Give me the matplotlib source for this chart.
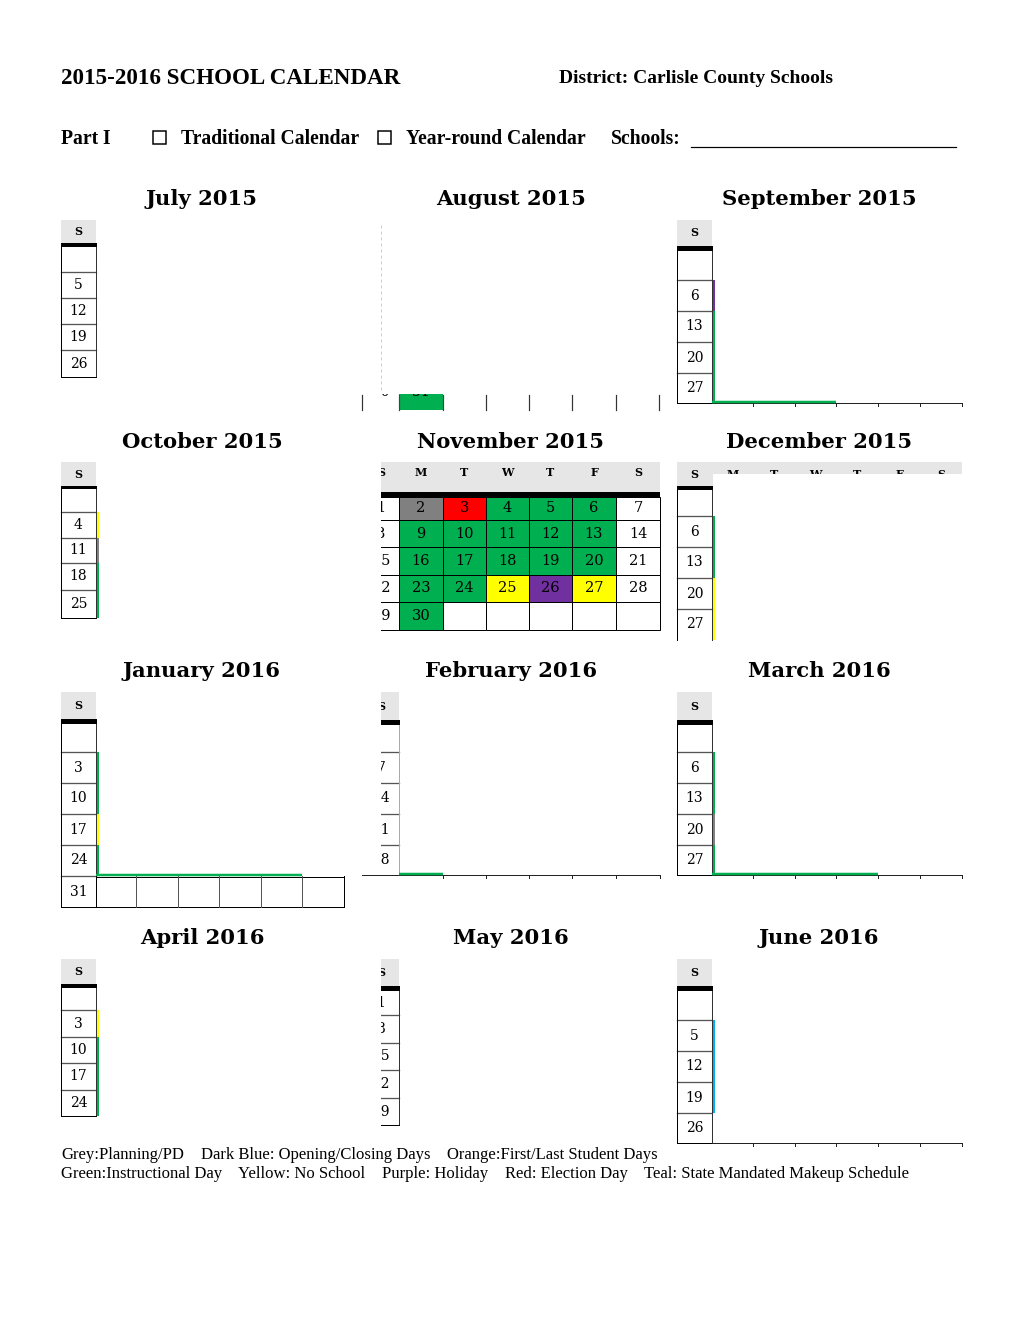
import matplotlib
matplotlib.use("Agg")
import matplotlib.pyplot as plt
from matplotlib.patches import Rectangle

# ------------------------------------------------------------------ data
COL = {"G": "#00b050", "Y": "#ffff00", "P": "#7030a0", "R": "#ff0000",
       "Gr": "#808080", "B": "#00b0f0", "W": "#ffffff"}
HEADER_GREY = "#e6e6e6"

page_title = "2015-2016 SCHOOL CALENDAR"
district = "District: Carlisle County Schools"
part_label = "Part I"
option_labels = ["Traditional Calendar", "Year-round Calendar"]
schools_label = "Schools:"
month_titles = ["July 2015", "August 2015", "September 2015",
                "October 2015", "November 2015", "December 2015",
                "January 2016", "February 2016", "March 2016",
                "April 2016", "May 2016", "June 2016"]
weekdays = ["S", "M", "T", "W", "T", "F", "S"]

# Sunday column numbers (visible) and colour of the Monday cell next to each
sundays = {
    "July 2015": ["", "5", "12", "19", "26"],
    "September 2015": ["", "6", "13", "20", "27"],
    "October 2015": ["", "4", "11", "18", "25"],
    "December 2015": ["", "6", "13", "20", "27"],
    "January 2016": ["", "3", "10", "17", "24", "31"],
    "February 2016": ["", "7", "14", "21", "28"],
    "March 2016": ["", "6", "13", "20", "27"],
    "April 2016": ["", "3", "10", "17", "24"],
    "May 2016": ["1", "8", "15", "22", "29"],
    "June 2016": ["", "5", "12", "19", "26"],
}
monday_colors = {
    "July 2015": ["W", "W", "W", "W", "W"],
    "September 2015": ["W", "P", "G", "G", "G"],
    "October 2015": ["W", "Y", "Gr", "G", "G"],
    "December 2015": ["W", "G", "G", "Y", "Y"],
    "January 2016": ["W", "G", "G", "Y", "G", "W"],
    "February 2016": ["W", "W", "W", "W", "W"],
    "March 2016": ["W", "G", "G", "Gr", "G"],
    "April 2016": ["W", "Y", "G", "G", "G"],
    "May 2016": ["W", "W", "W", "W", "W"],
    "June 2016": ["W", "B", "B", "B", "W"],
}
# colours of Mon..Sat along the last visible row edge
last_row_colors = {
    "September 2015": ["G", "G", "G", "W", "W", "W"],
    "January 2016": ["G", "G", "G", "G", "G", "W"],
    "February 2016": ["G", "W", "W", "W", "W", "W"],
    "March 2016": ["G", "G", "G", "G", "W", "W"],
    "June 2016": ["W", "W", "W", "W", "W", "W"],
}
august_last_row = ["30", "31"]
august_last_colors = ["W", "G"]

nov_days = [["1", "2", "3", "4", "5", "6", "7"],
            ["8", "9", "10", "11", "12", "13", "14"],
            ["15", "16", "17", "18", "19", "20", "21"],
            ["22", "23", "24", "25", "26", "27", "28"],
            ["29", "30", "", "", "", "", ""]]
nov_colors = [["W", "Gr", "R", "G", "G", "G", "W"],
              ["W", "G", "G", "G", "G", "G", "W"],
              ["W", "G", "G", "G", "G", "G", "W"],
              ["W", "G", "G", "Y", "P", "Y", "W"],
              ["W", "G", "W", "W", "W", "W", "W"]]

legend_line1 = ["Grey:Planning/PD", "Dark Blue: Opening/Closing Days",
                "Orange:First/Last Student Days"]
legend_line2 = ["Green:Instructional Day", "Yellow: No School", "Purple: Holiday",
                "Red: Election Day", "Teal: State Mandated Makeup Schedule"]

# ------------------------------------------------------------------ layout
fig = plt.figure(figsize=(10.2, 13.2), dpi=100)
ax = fig.add_axes([0, 0, 1, 1])
ax.set_xlim(0, 1020)
ax.set_ylim(1320, 0)
ax.axis("off")

PX = 0.72  # one pixel in points
SERIF = "Liberation Serif"
CAL = "DejaVu Serif"
MASK_Z = 4

LEFT_COLS = [96, 136, 178, 219, 261, 302, 344]
MID_COLS = [399, 443, 486, 529, 572, 616, 660]
RIGHT_COLS = [712, 753, 795, 836, 878, 920, 962]
TITLE_X = [202, 511, 819]
TITLE_Y = [205, 448, 677, 944]

panels = {
    "July 2015": dict(x0=61, x1=96, h=(220, 243, 247), rows=[247, 272, 298, 324, 350, 377]),
    "September 2015": dict(x0=677, x1=712, h=(220, 246, 251), rows=[251, 280, 311, 342, 373, 403]),
    "October 2015": dict(x0=61, x1=96, h=(462, 486, 489), rows=[489, 512, 538, 563, 590, 618]),
    "December 2015": dict(x0=677, x1=712, h=(462, 486, 490), rows=[490, 516, 547, 578, 609, 640], open_bottom=True),
    "January 2016": dict(x0=61, x1=96, h=(692, 719, 724), rows=[724, 752, 783, 814, 845, 876, 907]),
    "February 2016": dict(x0=363, x1=399, h=(692, 720, 725), rows=[725, 752, 783, 814, 845, 875], mask=381),
    "March 2016": dict(x0=677, x1=712, h=(692, 720, 725), rows=[725, 752, 783, 814, 845, 875]),
    "April 2016": dict(x0=61, x1=96, h=(959, 984, 988), rows=[988, 1010, 1037, 1063, 1090, 1116]),
    "May 2016": dict(x0=363, x1=399, h=(959, 986, 991), rows=[991, 1015, 1043, 1070, 1098, 1125], mask=381),
    "June 2016": dict(x0=677, x1=712, h=(959, 986, 991), rows=[991, 1020, 1051, 1082, 1113, 1143]),
}


def mask(x0, y0, x1, y1):
    # white cover: hides the part of a panel that the page layout cuts off
    ax.add_patch(Rectangle((x0, y0), x1 - x0, y1 - y0, color="white", lw=0, zorder=MASK_Z))


def sunday_panel(name, p):
    x0, x1 = p["x0"], p["x1"]
    hy0, hy1, bar = p["h"]
    rows = p["rows"]
    ax.add_patch(Rectangle((x0, hy0), x1 - x0, hy1 - hy0, color=HEADER_GREY, lw=0))
    ax.text((x0 + x1) / 2, (hy0 + hy1) / 2, weekdays[0], ha="center", va="center",
            fontsize=8, fontweight="bold", family=CAL)
    ax.add_patch(Rectangle((x0, hy1), x1 - x0 + 1, bar - hy1, color="black", lw=0))
    labels = sundays[name]
    cols = monday_colors[name]
    for i, lab in enumerate(labels):
        y0, y1 = rows[i], rows[i + 1]
        ax.text((x0 + x1) / 2, (y0 + y1) / 2, lab, ha="center", va="center",
                fontsize=10, family=CAL)
        if cols[i] != "W":
            ax.add_patch(Rectangle((x1, y0), 3, y1 - y0, color=COL[cols[i]], lw=0))
        if i > 0:
            ax.plot([x0, x1], [y0, y0], color="#555555", lw=1.3 * PX)
    ax.plot([x0, x0], [bar, rows[-1]], color="black", lw=PX)
    ax.plot([x1, x1], [bar, rows[-1]], color="#333333", lw=PX)
    if not p.get("open_bottom"):
        ax.plot([x0, x1], [rows[-1], rows[-1]], color="black", lw=PX)
    if "mask" in p:
        mask(x0 - 8, hy0 - 2, p["mask"], rows[-1] + 2)


for name, p in panels.items():
    sunday_panel(name, p)

# bottom edges with coloured remnants + small ticks
edge_specs = {
    "September 2015": (RIGHT_COLS, 403),
    "February 2016": (MID_COLS, 875),
    "March 2016": (RIGHT_COLS, 875),
    "June 2016": (RIGHT_COLS, 1143),
}
for name, (cols, y) in edge_specs.items():
    colors = last_row_colors[name]
    start = 362 if cols is MID_COLS else cols[0]
    ax.plot([start, cols[-1]], [y, y], color="#222222", lw=PX, zorder=5)
    for j, c in enumerate(colors):
        if c != "W":
            ax.plot([cols[j], cols[j + 1]], [y - 1, y - 1], color=COL[c], lw=2.5 * PX,
                    solid_capstyle="butt", zorder=5)
        ax.plot([cols[j + 1], cols[j + 1]], [y, y + 3], color="#222222", lw=PX, zorder=5)

# February: left grey rule of Monday column
ax.plot([399, 399], [725, 875], color="#aaaaaa", lw=PX)

# January: green remnant above the 31 row, and the 31 row cells
jc = last_row_colors["January 2016"]
for j, c in enumerate(jc):
    if c != "W":
        ax.plot([LEFT_COLS[j], LEFT_COLS[j + 1]], [875, 875], color=COL[c], lw=2.5 * PX,
                solid_capstyle="butt")
ax.plot([96, 344], [876.5, 876.5], color="black", lw=PX)
ax.plot([61, 344], [907, 907], color="black", lw=PX)
for xv in LEFT_COLS:
    ax.plot([xv, xv], [876, 907], color="#555555" if xv not in (96, 344) else "black", lw=PX)

# August: mostly hidden, only the bottom row remnant and a faint rule
aug_cols = [363] + MID_COLS
for j, (lab, c) in enumerate(zip(august_last_row, august_last_colors)):
    xa, xb = aug_cols[j], aug_cols[j + 1]
    if c != "W":
        ax.add_patch(Rectangle((xa, 376), xb - xa, 34, color=COL[c], lw=0))
    ax.text((xa + xb) / 2, 392, lab, ha="center", va="center", fontsize=10, family=CAL)
mask(352, 360, 460, 393.5)
mask(352, 360, 381, 412)
ax.plot([381, 381], [225, 390], color="#cccccc", lw=PX, ls=(0, (3, 3)), zorder=5)
for xv in [362, 399, 443, 486, 529, 572, 616, 659]:
    ax.plot([xv, xv], [395, 410], color="#333333" if xv not in (399, 443) else "#444444",
            lw=1.2 * PX, zorder=5)

# November: full grid, Sunday column cut at x=381
nov_cols = [363] + MID_COLS
nov_rows = [497, 520, 547, 575, 602, 630]
ax.add_patch(Rectangle((363, 462), 660 - 363, 30, color=HEADER_GREY, lw=0))
for j, wd in enumerate(weekdays):
    ax.text((nov_cols[j] + nov_cols[j + 1]) / 2, 473, wd, ha="center", va="center",
            fontsize=8, fontweight="bold", family=CAL)
ax.add_patch(Rectangle((363, 492), 660 - 363, 5, color="black", lw=0))
for i in range(5):
    for j in range(7):
        xa, xb = nov_cols[j], nov_cols[j + 1]
        ya, yb = nov_rows[i], nov_rows[i + 1]
        ax.add_patch(Rectangle((xa, ya), xb - xa, yb - ya, facecolor=COL[nov_colors[i][j]],
                               edgecolor="black", lw=PX))
        ax.text((xa + xb) / 2, (ya + yb) / 2, nov_days[i][j], ha="center", va="center",
                fontsize=10.5, family=CAL)
mask(352, 455, 381, 635)

# December: the header band partially visible to the right
ax.add_patch(Rectangle((712, 462), 962 - 712, 24, color=HEADER_GREY, lw=0))
for j in range(1, 7):
    ax.text((RIGHT_COLS[j - 1] + RIGHT_COLS[j]) / 2, 474, weekdays[j], ha="center",
            va="center", fontsize=8, fontweight="bold", family=CAL)
mask(713, 474, 970, 489)

# ------------------------------------------------------------------ titles
for k, t in enumerate(month_titles):
    ax.text(TITLE_X[k % 3], TITLE_Y[k // 3], t, ha="center", va="baseline",
            fontsize=15.2, fontweight="bold", family=CAL)

ax.text(61, 84, page_title, ha="left", va="baseline", fontsize=16.6, fontweight="bold",
        family=SERIF)
ax.text(559, 83, district, ha="left", va="baseline", fontsize=14, fontweight="bold",
        family=SERIF)
ax.text(61, 144, part_label, ha="left", va="baseline", fontsize=14.1, fontweight="bold",
        family=SERIF)
for bx, lab, lx in zip([153, 378], option_labels, [181, 406]):
    ax.add_patch(Rectangle((bx, 131), 13, 13, fill=False, edgecolor="black", lw=1.5 * PX))
    ax.text(lx, 144, lab, ha="left", va="baseline", fontsize=14.1, fontweight="bold",
            family=SERIF)
ax.text(611, 144, schools_label, ha="left", va="baseline", fontsize=14.1, fontweight="bold",
        family=SERIF)
ax.plot([691, 956], [147, 147], color="black", lw=1.2 * PX)

# ------------------------------------------------------------------ legend
for lab, lx in zip(legend_line1, [61, 201, 447]):
    ax.text(lx, 1159, lab, ha="left", va="baseline", fontsize=12, family=SERIF)
for lab, lx in zip(legend_line2, [61, 238, 382, 505, 644]):
    ax.text(lx, 1178, lab, ha="left", va="baseline", fontsize=12, family=SERIF)

fig.savefig("out.png", dpi=100)
